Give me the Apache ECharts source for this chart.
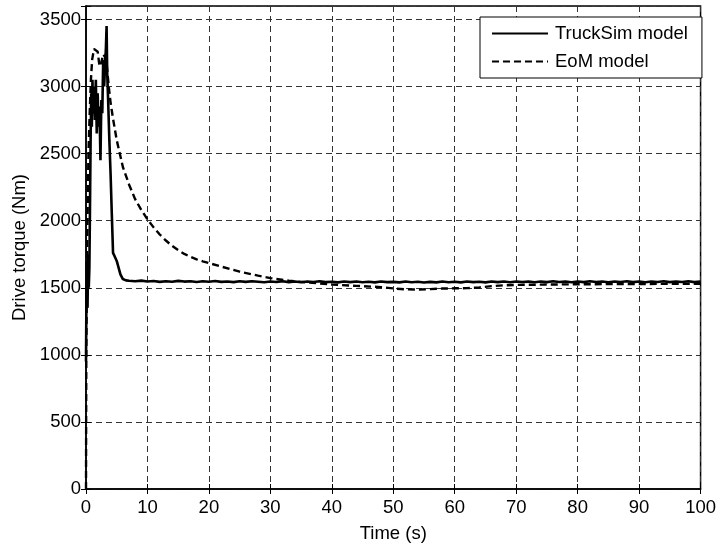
<!DOCTYPE html>
<html>
<head>
<meta charset="utf-8">
<script src="https://cdn.jsdelivr.net/npm/echarts@6/dist/echarts.min.js"></script>
<style>
html,body{margin:0;padding:0;background:#fff;}
#chart{width:719px;height:548px;}
</style>
</head>
<body>
<div id="chart"></div>
<script>
// ---- data ----
var seriesNames = ['TruckSim model', 'EoM model'];

var truckTime = [0, 0.05, 0.15, 0.25, 0.35, 0.45, 0.55, 0.65, 0.75, 0.85, 0.95, 1.05, 1.15, 1.3, 1.45, 1.6, 1.75, 1.9, 2.05, 2.2, 2.35, 2.5, 2.65, 2.8, 2.95, 3.1, 3.25, 3.35, 3.45, 3.6, 3.8, 4.0, 4.2, 4.4, 4.6, 4.8, 5.0, 5.3, 5.6, 6.0, 6.5,
  7, 8, 9, 10, 11, 12, 13, 14, 15, 16, 17, 18, 19, 20, 21, 22, 23, 24, 25, 26, 27, 28, 29, 30,
  31, 32, 33, 34, 35, 36, 37, 38, 39, 40, 41, 42, 43, 44, 45, 46, 47, 48, 49, 50,
  51, 52, 53, 54, 55, 56, 57, 58, 59, 60, 61, 62, 63, 64, 65, 66, 67, 68, 69, 70,
  71, 72, 73, 74, 75, 76, 77, 78, 79, 80, 81, 82, 83, 84, 85, 86, 87, 88, 89, 90,
  91, 92, 93, 94, 95, 96, 97, 98, 99, 100];
var truckTorque = [950, 1300, 1700, 1350, 1750, 1500, 1650, 2100, 2600, 2950, 2700, 3050, 2800, 3000, 2750, 3050, 2650, 2950, 2700, 2850, 2450, 2900, 2800, 3200, 3000, 3150, 3300, 3450, 3100, 2900, 2600, 2350, 2050, 1760, 1740, 1720, 1700, 1650, 1600, 1565, 1555,
  1552, 1548, 1553, 1546, 1550, 1544, 1549, 1545, 1551, 1546, 1549, 1543, 1548, 1545, 1550, 1544, 1547, 1542, 1548, 1544, 1549, 1545, 1541, 1547,
  1543, 1548, 1542, 1546, 1541, 1547, 1543, 1548, 1542, 1545, 1540, 1546, 1542, 1547, 1541, 1545, 1540, 1546, 1542, 1544,
  1540, 1546, 1541, 1545, 1539, 1544, 1540, 1546, 1541, 1545, 1540, 1546, 1542, 1545, 1540, 1547, 1542, 1546, 1541, 1547,
  1543, 1546, 1541, 1547, 1542, 1548, 1543, 1546, 1541, 1547, 1542, 1548, 1543, 1546, 1541, 1547, 1543, 1548, 1542, 1546,
  1541, 1547, 1543, 1548, 1542, 1546, 1543, 1548, 1542, 1546];

var eomTime = [0, 0.05, 0.15, 0.25, 0.4, 0.6, 0.8, 1.0, 1.3, 1.6, 1.9, 2.2, 2.5, 2.8, 3.1, 3.4, 3.7, 4.0, 4.4, 5.0, 5.6, 6.0, 7, 8, 9, 10, 11, 12, 13, 14, 15, 16, 17, 18, 19, 20, 22, 25, 28, 30, 33, 36, 40, 44, 48, 50, 52, 54, 56, 58, 60, 62, 64, 66, 68, 70, 75, 80, 85, 90, 95, 100];
var eomTorque = [0, 1000, 1600, 2000, 2500, 2800, 3050, 3200, 3280, 3290, 3260, 3150, 3180, 3240, 3220, 3150, 3000, 2880, 2760, 2600, 2480, 2400, 2270, 2160, 2080, 2010, 1950, 1897, 1852, 1812, 1780, 1752, 1730, 1712, 1697, 1684, 1658, 1620, 1590, 1572, 1552, 1540, 1524, 1514, 1505, 1495, 1488, 1486, 1490, 1494, 1496, 1497, 1502, 1512, 1518, 1521, 1524, 1526, 1527, 1528, 1529, 1530];

var xTicks = {min: 0, max: 100, interval: 10};
var yTicks = {min: 0, max: 3600, interval: 500, lastLabel: 3500};

// ---- chart ----
function pairs(t, v) { return t.map(function (x, i) { return [x, v[i]]; }); }
var FONT = 'Arial, "Liberation Sans", Helvetica, sans-serif';
var FS = 18.5;
var gridLine = {show: true, lineStyle: {color: '#333', width: 1, type: [6, 4]}};

var chart = echarts.init(document.getElementById('chart'), null, {renderer: 'canvas'});
chart.setOption({
  animation: false,
  backgroundColor: '#fff',
  textStyle: {fontFamily: FONT},
  grid: {left: 86, right: 15, top: 6, bottom: 53, show: true, borderColor: '#000', borderWidth: 1.5, containLabel: false},
  legend: {
    data: seriesNames,
    orient: 'vertical',
    left: 480, top: 17,
    backgroundColor: '#fff',
    borderColor: '#000', borderWidth: 1,
    padding: [7, 14, 7, 11],
    itemWidth: 56, itemHeight: 14, itemGap: 9,
    itemStyle: {opacity: 0},
    textStyle: {fontFamily: FONT, fontSize: FS, color: '#000', padding: [0, 0, 0, 2]}
  },
  xAxis: [{
    type: 'value', min: xTicks.min, max: xTicks.max, interval: xTicks.interval,
    name: 'Time (s)', nameLocation: 'middle', nameGap: 35,
    nameTextStyle: {fontFamily: FONT, fontSize: FS, color: '#000'},
    axisLine: {show: true, onZero: false, lineStyle: {color: '#000', width: 1.5}},
    axisTick: {show: true, inside: true, length: 5, lineStyle: {color: '#000'}},
    axisLabel: {fontFamily: FONT, fontSize: FS, color: '#000', margin: 9},
    splitLine: gridLine
  }, {
    type: 'value', position: 'top', min: xTicks.min, max: xTicks.max, interval: xTicks.interval,
    axisLine: {show: false}, axisTick: {show: true, inside: true, length: 5, lineStyle: {color: '#000'}},
    axisLabel: {show: false}, splitLine: {show: false}
  }],
  yAxis: [{
    type: 'value', min: yTicks.min, max: yTicks.max, interval: yTicks.interval,
    name: 'Drive torque (Nm)', nameLocation: 'middle', nameGap: 57,
    nameTextStyle: {fontFamily: FONT, fontSize: FS, color: '#000'},
    axisLine: {show: true, onZero: false, lineStyle: {color: '#000', width: 1.5}},
    axisTick: {show: true, inside: true, length: 5, lineStyle: {color: '#000'}},
    axisLabel: {fontFamily: FONT, fontSize: FS, color: '#000', margin: 5,
      formatter: function (v) { return v > yTicks.lastLabel ? '' : String(v); }},
    splitLine: gridLine
  }, {
    type: 'value', position: 'right', min: yTicks.min, max: yTicks.max, interval: yTicks.interval,
    axisLine: {show: false}, axisTick: {show: true, inside: true, length: 5, lineStyle: {color: '#000'}},
    axisLabel: {show: false}, splitLine: {show: false}
  }],
  series: [{
    name: seriesNames[0], type: 'line', symbol: 'none', z: 3,
    data: pairs(truckTime, truckTorque),
    lineStyle: {color: '#000', width: 2.6, type: 'solid'},
    itemStyle: {color: '#000'}
  }, {
    name: seriesNames[1], type: 'line', symbol: 'none', z: 2,
    data: pairs(eomTime, eomTorque),
    lineStyle: {color: '#000', width: 2.4, type: [7, 4]},
    itemStyle: {color: '#000'}
  }]
});
</script>
</body>
</html>
